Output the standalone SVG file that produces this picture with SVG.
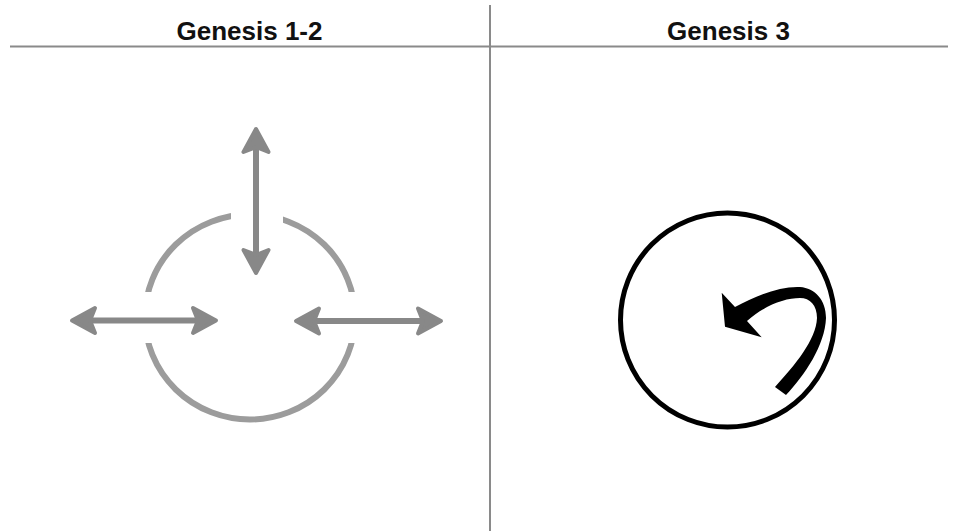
<svg xmlns="http://www.w3.org/2000/svg" width="958" height="531" viewBox="0 0 958 531">
  <style>
    .title { font-family: "Liberation Sans", Arial, sans-serif; font-weight: bold; font-size: 26px; fill: #111; text-anchor: middle; }
    .rule { stroke: #8a8a8a; stroke-width: 2; fill: none; }
    .garrow { stroke: #888888; stroke-width: 6; fill: none; marker-start: url(#ghead); marker-end: url(#ghead); }
    .gcircle { stroke: #9c9c9c; stroke-width: 6; fill: none; }
  </style>
  <defs>
    <marker id="ghead" markerUnits="userSpaceOnUse" orient="auto-start-reverse" refX="0" refY="0" markerWidth="40" markerHeight="40" viewBox="-20 -20 40 40" overflow="visible">
      <path d="M10,0 L-13,-12.5 L-8,0 L-13,12.5 Z" fill="#888888" stroke="#888888" stroke-width="4" stroke-linejoin="round"/>
    </marker>
    <mask id="gaps" maskUnits="userSpaceOnUse" x="0" y="0" width="958" height="531">
      <rect x="0" y="0" width="958" height="531" fill="#fff"/>
      <rect x="231" y="190" width="52" height="60" fill="#000"/>
      <rect x="120" y="292" width="50" height="51" fill="#000"/>
      <rect x="330" y="292" width="50" height="51" fill="#000"/>
    </mask>
  </defs>

  <g id="frame">
    <line class="rule" x1="10" y1="46.5" x2="948" y2="46.5"/>
    <line class="rule" x1="490" y1="5" x2="490" y2="531"/>
  </g>

  <g id="title-left">
    <text class="title" x="249.5" y="40">Genesis 1-2</text>
  </g>
  <g id="title-right">
    <text class="title" x="728.5" y="40">Genesis 3</text>
  </g>

  <g id="open-circle">
    <ellipse class="gcircle" cx="250" cy="317" rx="105" ry="102.5" mask="url(#gaps)"/>
  </g>

  <g id="connectors">
    <line class="garrow" x1="256" y1="139" x2="256" y2="263"/>
    <line class="garrow" x1="82" y1="320.5" x2="206" y2="320.5"/>
    <line class="garrow" x1="306" y1="321" x2="431" y2="321"/>
  </g>

  <g id="closed-circle">
    <circle cx="727.5" cy="320" r="107" fill="none" stroke="#000" stroke-width="5"/>
    <path d="M721.7,292.7 L735,307 C755,296 780,286 800,287 C815,288 826,300 826,318 C825,345 805,375 786,395 L775,387 C795,365 816,340 817,318 C817,305 810,298 800,298 C785,298 765,305 747,321 L761.7,337.3 L725,326.7 Z" fill="#000"/>
  </g>
</svg>
